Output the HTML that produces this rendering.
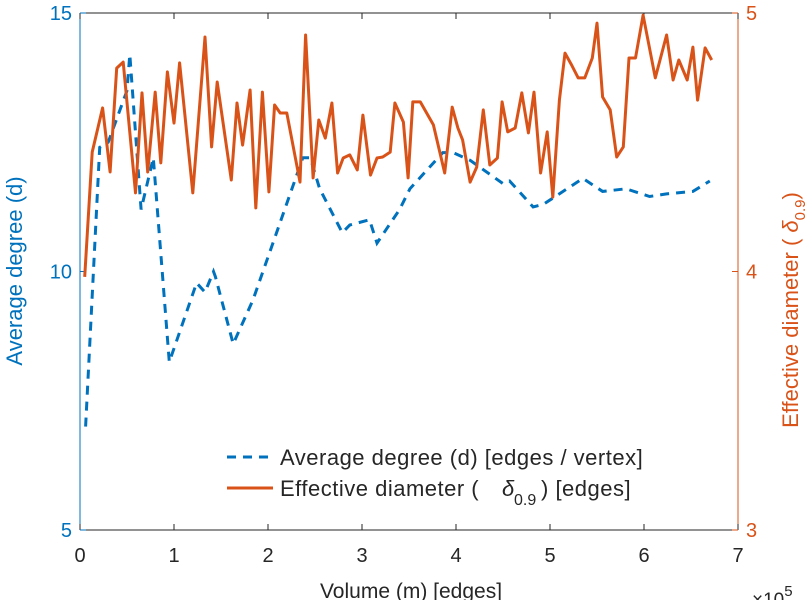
<!DOCTYPE html>
<html><head><meta charset="utf-8"><style>
body{margin:0;background:#fff;}
svg{display:block;font-family:"Liberation Sans",sans-serif;}
</style></head><body>
<svg id="chart" width="812" height="600" viewBox="0 0 812 600" xmlns="http://www.w3.org/2000/svg">
<g id="axes"></g>
<g id="series"></g>
<g>
  <line x1="227" y1="457" x2="273" y2="457" stroke="#0072BD" stroke-width="3" stroke-dasharray="9,7"/>
  <text x="280" y="465" font-size="22" letter-spacing="0.5" fill="#262626">Average degree (d) [edges / vertex]</text>
  <line x1="227" y1="488" x2="273" y2="488" stroke="#D95319" stroke-width="3"/>
  <text x="280" y="496" font-size="22" letter-spacing="0.5" fill="#262626">Effective diameter (</text>
  <text x="502" y="496" font-size="22" font-style="italic" fill="#262626">δ</text>
  <text x="514" y="505" font-size="16" fill="#262626">0.9</text>
  <text x="541" y="496" font-size="22" letter-spacing="0.5" fill="#262626">) [edges]</text>
</g>
<text x="411" y="598" font-size="21" text-anchor="middle" fill="#262626">Volume (m) [edges]</text>
<text x="752" y="606" font-size="19" fill="#262626">×10<tspan font-size="15" dy="-10">5</tspan></text>
<text transform="translate(22,271) rotate(-90)" font-size="22" text-anchor="middle" fill="#0072BD">Average degree (d)</text>
<text transform="translate(798,310) rotate(-90)" font-size="22" text-anchor="middle" fill="#D95319">Effective diameter (     <tspan font-style="italic">δ</tspan><tspan font-size="15" dy="7">0.9</tspan><tspan dy="-7">)</tspan></text>
</svg>
<script>
const xTicks=[0,1,2,3,4,5,6,7];
const leftTicks=[5,10,15];
const rightTicks=[3,4,5];
const degX=[0.06,0.21,0.3,0.4,0.5,0.53,0.65,0.78,0.95,1.24,1.33,1.42,1.44,1.63,1.84,2.37,2.45,2.55,2.79,2.87,3.08,3.16,3.40,3.51,3.86,3.97,4.15,4.5,4.57,4.82,4.93,5.35,5.56,5.81,6.06,6.24,6.52,6.7];
const degY=[7.0,12.4,12.5,13.0,13.5,14.2,11.2,12.2,8.25,9.78,9.6,10.0,9.9,8.6,9.45,12.2,12.2,11.6,10.75,10.9,11.0,10.55,11.2,11.6,12.3,12.3,12.15,11.7,11.75,11.25,11.3,11.8,11.55,11.6,11.45,11.5,11.55,11.75];
const diaX=[0.05,0.13,0.24,0.32,0.39,0.46,0.59,0.66,0.72,0.80,0.86,0.93,1.00,1.06,1.20,1.33,1.40,1.46,1.61,1.67,1.73,1.81,1.87,1.94,2.01,2.07,2.13,2.20,2.34,2.40,2.48,2.54,2.61,2.68,2.74,2.80,2.87,2.95,3.01,3.09,3.16,3.22,3.30,3.35,3.44,3.49,3.54,3.62,3.76,3.88,3.96,4.02,4.07,4.15,4.22,4.29,4.36,4.44,4.49,4.55,4.63,4.70,4.77,4.83,4.90,4.97,5.03,5.10,5.16,5.23,5.30,5.37,5.45,5.50,5.56,5.64,5.71,5.78,5.84,5.91,5.99,6.12,6.24,6.31,6.37,6.46,6.52,6.57,6.65,6.72];
const diaY=[3.979,4.462,4.633,4.385,4.787,4.810,4.304,4.691,4.385,4.694,4.420,4.772,4.574,4.807,4.304,4.907,4.482,4.733,4.354,4.652,4.489,4.702,4.246,4.694,4.308,4.644,4.613,4.613,4.346,4.915,4.362,4.586,4.516,4.652,4.381,4.439,4.451,4.393,4.605,4.373,4.439,4.443,4.462,4.652,4.578,4.362,4.656,4.656,4.567,4.381,4.636,4.555,4.509,4.346,4.404,4.625,4.412,4.439,4.656,4.540,4.555,4.691,4.536,4.694,4.381,4.540,4.288,4.663,4.845,4.799,4.749,4.749,4.826,4.961,4.675,4.625,4.443,4.482,4.826,4.826,4.992,4.749,4.915,4.741,4.818,4.741,4.868,4.663,4.865,4.818];

const L=80,R=738,T=13,B=530;
const xS=v=>L+(v-0)/(7-0)*(R-L);
const yL=v=>B-(v-5)/(15-5)*(B-T);
const yR=v=>B-(v-3)/(5-3)*(B-T);
const NS='http://www.w3.org/2000/svg';
const axes=document.getElementById('axes'),series=document.getElementById('series');
function mk(tag,attrs,parent){const e=document.createElementNS(NS,tag);for(const k in attrs)e.setAttribute(k,attrs[k]);parent.appendChild(e);return e;}

let e;
e=mk('rect',{x:L,y:T,width:R-L,height:B-T,fill:'#fff'},axes);


e=mk('line',{x1:L,y1:T,x2:R,y2:T,stroke:'#262626','stroke-width':1},axes);


e=mk('line',{x1:L,y1:B,x2:R,y2:B,stroke:'#262626','stroke-width':1},axes);


e=mk('line',{x1:L,y1:T,x2:L,y2:B,stroke:'#0072BD','stroke-width':1},axes);


e=mk('line',{x1:R,y1:T,x2:R,y2:B,stroke:'#D95319','stroke-width':1},axes);



xTicks.forEach(v=>{const x=xS(v);
 let t=mk('line',{x1:x,y1:B,x2:x,y2:B-6,stroke:'#262626'},axes);
 
 
 t=mk('line',{x1:x,y1:T,x2:x,y2:T+6,stroke:'#262626'},axes);
 
 
 t=mk('text',{x:x,y:B+32,'font-size':20,'text-anchor':'middle',fill:'#262626'},axes);t.textContent=v;
 
 
});
leftTicks.forEach(v=>{const y=yL(v);
 let t=mk('line',{x1:L,y1:y,x2:L+6,y2:y,stroke:'#0072BD'},axes);
 
 
 t=mk('text',{x:L-8,y:y+7,'font-size':20,'text-anchor':'end',fill:'#0072BD'},axes);t.textContent=v;
 
 
});
rightTicks.forEach(v=>{const y=yR(v);
 let t=mk('line',{x1:R,y1:y,x2:R-6,y2:y,stroke:'#D95319'},axes);
 
 
 t=mk('text',{x:R+8,y:y+7,'font-size':20,'text-anchor':'start',fill:'#D95319'},axes);t.textContent=v;
 
 
});

let d1=degX.map((v,i)=>(i?'L':'M')+xS(v).toFixed(1)+','+yL(degY[i]).toFixed(1)).join('');
e=mk('path',{d:d1,fill:'none',stroke:'#0072BD','stroke-width':3,'stroke-dasharray':'9,7'},series);


let d2=diaX.map((v,i)=>(i?'L':'M')+xS(v).toFixed(1)+','+yR(diaY[i]).toFixed(1)).join('');
e=mk('path',{d:d2,fill:'none',stroke:'#D95319','stroke-width':3,'stroke-linejoin':'round'},series);


</script>
</body></html>
